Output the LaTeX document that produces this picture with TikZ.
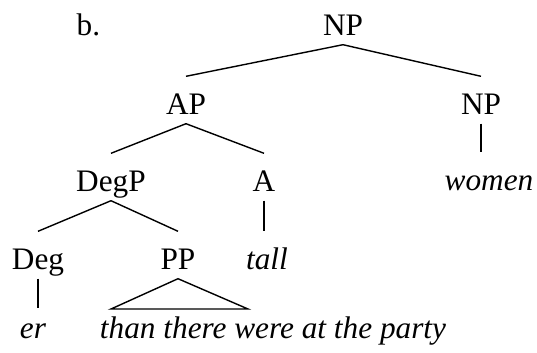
\documentclass[tikz,border=0pt]{standalone}
\usepackage{fontspec}
\setmainfont{Liberation Serif}
\begin{document}
\begin{tikzpicture}[line width=0.8pt,every node/.style={inner sep=0pt,font=\fontsize{17.8}{20}\selectfont},
  cat/.style={anchor=base,text height=0.74cm,text depth=0.18cm},
  word/.style={cat,font=\fontsize{17.8}{20}\selectfont\itshape},
  leaf/.style={anchor=base,text height=0.58cm,text depth=0.18cm,font=\fontsize{17.8}{20}\selectfont\itshape}]
\useasboundingbox (0,0) rectangle (10.74,-7.04);
\node[anchor=base west] (lbl) at (1.52,-0.70) {b.};
\node[cat] (np) at (6.86,-0.70) {NP};
\node[cat] (ap) at (3.72,-2.28) {AP};
\node[cat] (npr) at (9.62,-2.28) {NP};
\node[cat] (degp) at (2.22,-3.82) {DegP};
\node[cat] (a) at (5.28,-3.82) {A};
\node[word] (women) at (9.78,-3.80) {women};
\node[cat] (deg) at (0.76,-5.38) {Deg};
\node[cat] (pp) at (3.56,-5.38) {PP};
\node[word] (tall) at (5.34,-5.38) {tall};
\node[leaf] (er) at (0.66,-6.76) {er};
\node[leaf] (than) at (5.46,-6.76) {than there were at the party};
\coordinate (pl) at (2.22,-6.18);
\coordinate (pr) at (4.96,-6.18);
% branches
\draw (np.south)--(ap.north) (np.south)--(npr.north);
\draw (ap.south)--(degp.north) (ap.south)--(a.north);
\draw (npr.south)--(npr.south |- women.north);
\draw (degp.south)--(deg.north) (degp.south)--(pp.north);
\draw (a.south)--(a.south |- tall.north);
\draw (deg.south)--(deg.south |- er.north);
\draw (pp.south)--(pl)--(pr)--cycle;
\end{tikzpicture}
\end{document}
